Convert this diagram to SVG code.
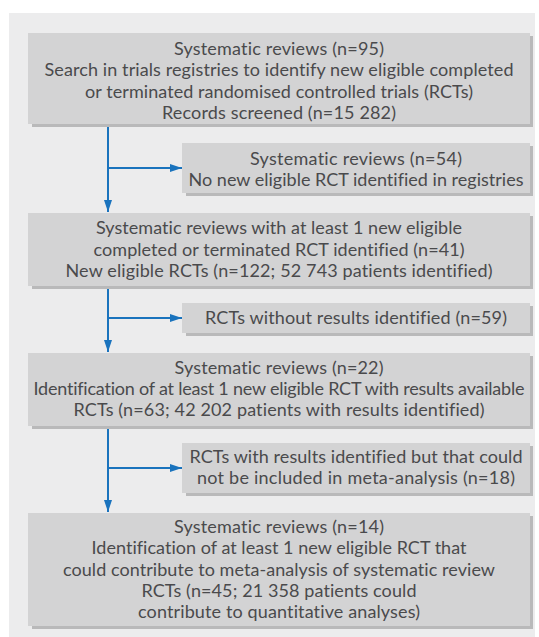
<svg xmlns="http://www.w3.org/2000/svg" width="539" height="637" viewBox="0 0 539 637">
<style>
.panel{fill:#ececed}
.box{fill:#d3d3d4}
.sh{fill:#b9b9ba}
.t{font-family:Lato,"Liberation Sans",sans-serif;font-size:18px;fill:#4a4a4c;text-anchor:middle;font-variant-ligatures:none;font-feature-settings:"liga" 0,"dlig" 0}
.c{stroke:#1a73bd;stroke-width:2;fill:none}
</style>
<defs>
<marker id="ah" markerUnits="userSpaceOnUse" markerWidth="12" markerHeight="8" refX="12" refY="4" orient="auto">
<path d="M0,0 L12,4 L0,8 z" fill="#1a73bd"/>
</marker>
</defs>
<rect class="panel" x="9" y="13" width="526" height="624"/>
<g id="connectors">
<path class="c" d="M108,124 V212" marker-end="url(#ah)"/>
<path class="c" d="M108,168 H182" marker-end="url(#ah)"/>
<path class="c" d="M108,286 V352" marker-end="url(#ah)"/>
<path class="c" d="M108,318 H182" marker-end="url(#ah)"/>
<path class="c" d="M108,426 V512" marker-end="url(#ah)"/>
<path class="c" d="M108,468 H182" marker-end="url(#ah)"/>
</g>
<g id="n1">
<rect class="sh" x="32" y="36" width="501" height="91"/>
<rect class="box" x="28" y="33" width="502" height="91"/>
<text class="t" x="279" y="55" textLength="210">Systematic reviews (n=95)</text>
<text class="t" x="279" y="76.3" textLength="469">Search in trials registries to identify new eligible completed</text>
<text class="t" x="279" y="97.6" textLength="388">or terminated randomised controlled trials (RCTs)</text>
<text class="t" x="279" y="118.9" textLength="234">Records screened (n=15 282)</text>
</g>
<g id="n2">
<rect class="sh" x="186" y="146" width="347" height="50"/>
<rect class="box" x="182" y="143" width="348" height="50"/>
<text class="t" x="356" y="165" textLength="212">Systematic reviews (n=54)</text>
<text class="t" x="356" y="186" textLength="335">No new eligible RCT identified in registries</text>
</g>
<g id="n3">
<rect class="sh" x="32" y="216" width="501" height="73"/>
<rect class="box" x="28" y="213" width="502" height="73"/>
<text class="t" x="279" y="234.4" textLength="366">Systematic reviews with at least 1 new eligible</text>
<text class="t" x="279" y="255.8" textLength="371">completed or terminated RCT identified (n=41)</text>
<text class="t" x="279" y="277.2" textLength="427">New eligible RCTs (n=122; 52 743 patients identified)</text>
</g>
<g id="n4">
<rect class="sh" x="186" y="306" width="347" height="30"/>
<rect class="box" x="182" y="303" width="348" height="30"/>
<text class="t" x="356" y="324.3" textLength="302">RCTs without results identified (n=59)</text>
</g>
<g id="n5">
<rect class="sh" x="32" y="356" width="501" height="73"/>
<rect class="box" x="28" y="353" width="502" height="73"/>
<text class="t" x="279" y="373.5" textLength="209">Systematic reviews (n=22)</text>
<text class="t" x="279" y="394.8" textLength="491">Identification of at least 1 new eligible RCT with results available</text>
<text class="t" x="279" y="416.1" textLength="411">RCTs (n=63; 42 202 patients with results identified)</text>
</g>
<g id="n6">
<rect class="sh" x="186" y="446" width="347" height="50"/>
<rect class="box" x="182" y="443" width="348" height="50"/>
<text class="t" x="356" y="463.3" textLength="333">RCTs with results identified but that could</text>
<text class="t" x="356" y="484.3" textLength="318">not be included in meta-analysis (n=18)</text>
</g>
<g id="n7">
<rect class="sh" x="32" y="516" width="501" height="113"/>
<rect class="box" x="28" y="513" width="502" height="113"/>
<text class="t" x="279" y="533" textLength="210">Systematic reviews (n=14)</text>
<text class="t" x="279" y="554.3" textLength="375">Identification of at least 1 new eligible RCT that</text>
<text class="t" x="279" y="575.6" textLength="432">could contribute to meta-analysis of systematic review</text>
<text class="t" x="279" y="596.9" textLength="275">RCTs (n=45; 21 358 patients could</text>
<text class="t" x="279" y="618.2" textLength="282">contribute to quantitative analyses)</text>
</g>
</svg>
